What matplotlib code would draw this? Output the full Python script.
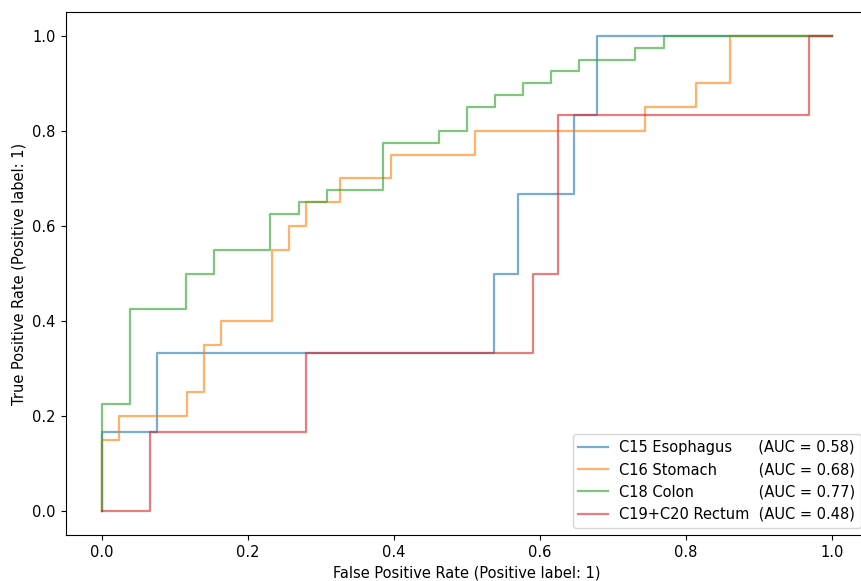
import matplotlib
matplotlib.use("Agg")
import matplotlib.pyplot as plt

# ROC curve points (corner points, as returned by roc_curve)
esoph_fpr = [0, 0, 0.076, 0.076, 0.5375, 0.5375, 0.5705, 0.5705, 0.6465, 0.6465, 0.678, 0.678, 1.0]
esoph_tpr = [0, 0.1667, 0.1667, 0.3333, 0.3333, 0.5, 0.5, 0.6667, 0.6667, 0.8333, 0.8333, 1.0, 1.0]

stom_fpr = [0, 0, 0.0233, 0.0233, 0.1163, 0.1163, 0.1395, 0.1395, 0.1628, 0.1628, 0.2326, 0.2326,
            0.2558, 0.2558, 0.2791, 0.2791, 0.3256, 0.3256, 0.3953, 0.3953, 0.5116, 0.5116,
            0.7442, 0.7442, 0.8140, 0.8140, 0.8605, 0.8605, 1.0]
stom_tpr = [0, 0.15, 0.15, 0.20, 0.20, 0.25, 0.25, 0.35, 0.35, 0.40, 0.40, 0.55,
            0.55, 0.60, 0.60, 0.65, 0.65, 0.70, 0.70, 0.75, 0.75, 0.80,
            0.80, 0.85, 0.85, 0.90, 0.90, 1.0, 1.0]

colon_fpr = [0, 0, 0.0385, 0.0385, 0.1154, 0.1154, 0.1538, 0.1538, 0.2308, 0.2308, 0.2692, 0.2692,
             0.3077, 0.3077, 0.3846, 0.3846, 0.4615, 0.4615, 0.5, 0.5, 0.5385, 0.5385,
             0.5769, 0.5769, 0.6154, 0.6154, 0.6538, 0.6538, 0.7308, 0.7308, 0.7692, 0.7692, 1.0]
colon_tpr = [0, 0.225, 0.225, 0.425, 0.425, 0.5, 0.5, 0.55, 0.55, 0.625, 0.625, 0.65,
             0.65, 0.675, 0.675, 0.775, 0.775, 0.8, 0.8, 0.85, 0.85, 0.875,
             0.875, 0.9, 0.9, 0.925, 0.925, 0.95, 0.95, 0.975, 0.975, 1.0, 1.0]

rect_fpr = [0, 0.0658, 0.0658, 0.279, 0.279, 0.591, 0.591, 0.624, 0.624, 0.9685, 0.9685, 1.0]
rect_tpr = [0, 0, 0.1667, 0.1667, 0.3333, 0.3333, 0.5, 0.5, 0.8333, 0.8333, 1.0, 1.0]

names = ["C15 Esophagus", "C16 Stomach", "C18 Colon", "C19+C20 Rectum"]
aucs = [0.58, 0.68, 0.77, 0.48]
colors = ["tab:blue", "tab:orange", "tab:green", "tab:red"]

fig = plt.figure(figsize=(8.61, 5.81), dpi=100)
ax = fig.add_axes([65.5 / 861, 46 / 581, (868.5 - 65.5) / 861, (535 - 12) / 581])

series = [(esoph_fpr, esoph_tpr), (stom_fpr, stom_tpr), (colon_fpr, colon_tpr), (rect_fpr, rect_tpr)]

# pad names with spaces so that the AUC parts line up
renderer = fig.canvas.get_renderer()
fs = 10.5
def tw(s):
    t = fig.text(0, 0, s + "|", fontsize=fs)
    w = t.get_window_extent(renderer).width
    t.remove()
    return w
target = max(tw(n) for n in names) + (tw("  ") - tw(""))
labels = []
for n, a in zip(names, aucs):
    s = n
    while tw(s + " ") <= target:
        s += " "
    while tw(s + "\u200a") <= target + 0.5:
        s += "\u200a"
    labels.append(f"{s}(AUC = {a:.2f})")

for (fx, ty), c, lab in zip(series, colors, labels):
    ax.plot(fx, ty, color=c, alpha=0.6, lw=1.6, label=lab)

ax.set_xlim(-0.05, 1.05)
ax.set_ylim(-0.05, 1.05)
ax.set_xlabel("False Positive Rate (Positive label: 1)", fontsize=10.5)
ax.set_ylabel("True Positive Rate (Positive label: 1)", fontsize=10.5)
ax.tick_params(labelsize=10.5)
ax.legend(loc="lower right", fontsize=fs)

fig.savefig("out.png", dpi=100)
